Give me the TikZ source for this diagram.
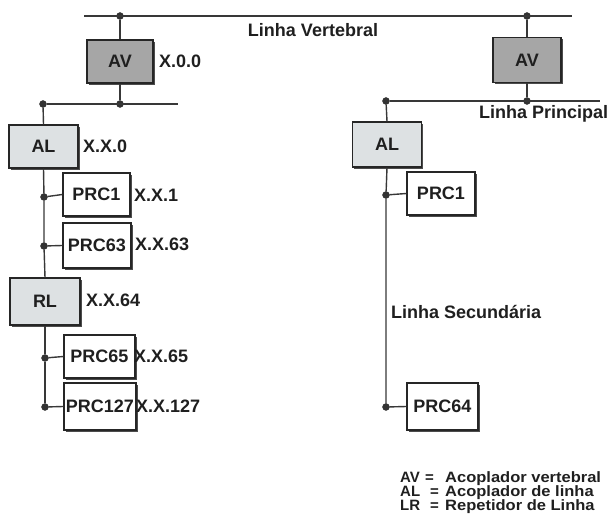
\documentclass[tikz,border=0pt]{standalone}
\usepackage{fontspec}
\setmainfont{Liberation Sans}
\usetikzlibrary{shadows}
\begin{document}
\begin{tikzpicture}[x=1pt,y=-1pt,
  font=\bfseries\fontsize{18}{20}\selectfont,
  txt/.style={text=black!88, inner sep=0pt},
  box/.style={draw=black!85, line width=1.3pt, inner sep=0pt, text=black!88,
    general shadow={shadow xshift=1.6pt, shadow yshift=-1.6pt, fill=black!70}},
  boxav/.style={box, fill=black!35},
  boxal/.style={box, fill=gray!20!cyan!4!white!88!black},
  boxp/.style={box, fill=white},
  dot/.style={circle, fill=black!80, draw=black!80, inner sep=0pt, minimum size=7pt},
  wire/.style={line width=1.4pt, draw=black!78},
  leg/.style={txt, anchor=base west, text height=10pt, text depth=2pt,
    font=\bfseries\fontsize{15}{16}\selectfont}]
\useasboundingbox (0,0) rectangle (611,526);
% coordinates of bus lines
\coordinate (tl) at (84,16);
\coordinate (tr) at (572,16);
\coordinate (pl) at (178,104);
\coordinate (pr) at (600,101);
% dots
\node[dot] (dV1) at (120,16) {};
\node[dot] (dV2) at (527,16) {};
\node[dot] (dL0) at (43,104) {};
\node[dot] (dP1) at (120,104) {};
\node[dot] (dR0) at (386,101) {};
\node[dot] (dP2) at (527,101) {};
\node[dot] (dL1) at (44,197) {};
\node[dot] (dL2) at (44,246) {};
\node[dot] (dL3) at (45,358) {};
\node[dot] (dL4) at (45,407) {};
\node[dot] (dR1) at (386,195) {};
\node[dot] (dR2) at (386,407) {};
% boxes
\node[boxav, minimum width=66pt, minimum height=43pt] (avL) at (120,61.5) {AV};
\node[boxav, minimum width=68pt, minimum height=45pt] (avR) at (527,60) {AV};
\node[boxal, minimum width=69pt, minimum height=43pt] (alL) at (43.5,146.5) {AL};
\node[boxal, minimum width=69pt, minimum height=45pt] (alR) at (387,144.5) {AL};
\node[boxal, minimum width=70pt, minimum height=47pt] (rl) at (45,301.5) {RL};
\node[boxp, minimum width=67pt, minimum height=43pt] (p1L) at (96.5,194.5) {PRC1};
\node[boxp, minimum width=68pt, minimum height=45pt] (p63) at (97,245.5) {PRC63};
\node[boxp, minimum width=71pt, minimum height=43pt] (p65) at (99.5,356.5) {PRC65};
\node[boxp, minimum width=72pt, minimum height=47pt] (p127) at (100,406.5) {PRC127};
\node[boxp, minimum width=68pt, minimum height=43pt] (p1R) at (441,193.5) {PRC1};
\node[boxp, minimum width=71pt, minimum height=47pt] (p64) at (442.5,406.5) {PRC64};
% wires
\draw[wire] (tl) -- (tr);
\draw[wire] (dL0) -- (pl);
\draw[wire] (dR0) -- (pr);
\draw[wire] (dV1) -- (avL.north);
\draw[wire] (avL.south) -- (dP1);
\draw[wire] (dV2) -- (avR.north);
\draw[wire] (avR.south) -- (dP2);
\draw[wire] (dL0) -- (alL.north);
\draw[wire] (alL.south) -- (dL1) -- (dL2) -- (rl.north);
\draw[wire] (rl.south) -- (dL3) -- (dL4);
\draw[wire] (dR0) -- (alR.north);
\draw[wire] (alR.south) -- (dR1) -- (dR2);
\draw[wire] (dL1) -- (p1L.west);
\draw[wire] (dL2) -- (p63.west);
\draw[wire] (dL3) -- (p65.west);
\draw[wire] (dL4) -- (p127.west);
\draw[wire] (dR1) -- (p1R.west);
\draw[wire] (dR2) -- (p64.west);
% labels
\node[txt] (lv) at (313,30) {Linha Vertebral};
\node[txt, anchor=west] (lp) at (479,114) {Linha Principal};
\node[txt, anchor=west] (ls) at (391,312) {Linha Secundária};
\node[txt, anchor=west] (a0) at (159,61) {X.0.0};
\node[txt, anchor=west] (a1) at (83,146) {X.X.0};
\node[txt, anchor=west] (a2) at (134,195) {X.X.1};
\node[txt, anchor=west] (a3) at (135,244) {X.X.63};
\node[txt, anchor=west] (a4) at (86,300) {X.X.64};
\node[txt, anchor=west] (a5) at (134,356) {X.X.65};
\node[txt, anchor=west] (a6) at (136,406) {X.X.127};
% legend
\node[leg] (k1) at (400,483) {AV};
\node[leg] (k2) at (400,497) {AL};
\node[leg] (k3) at (400,511) {LR};
\node[leg] (e1) at (425,483) {=};
\node[leg] (e2) at (430,497) {=};
\node[leg] (e3) at (430,511) {=};
\node[leg] (t1) at (445,483) {\scalebox{1.1}[1]{Acoplador vertebral}};
\node[leg] (t2) at (445,497) {\scalebox{1.1}[1]{Acoplador de linha}};
\node[leg] (t3) at (445,511) {\scalebox{1.1}[1]{Repetidor de Linha}};
\end{tikzpicture}
\end{document}
